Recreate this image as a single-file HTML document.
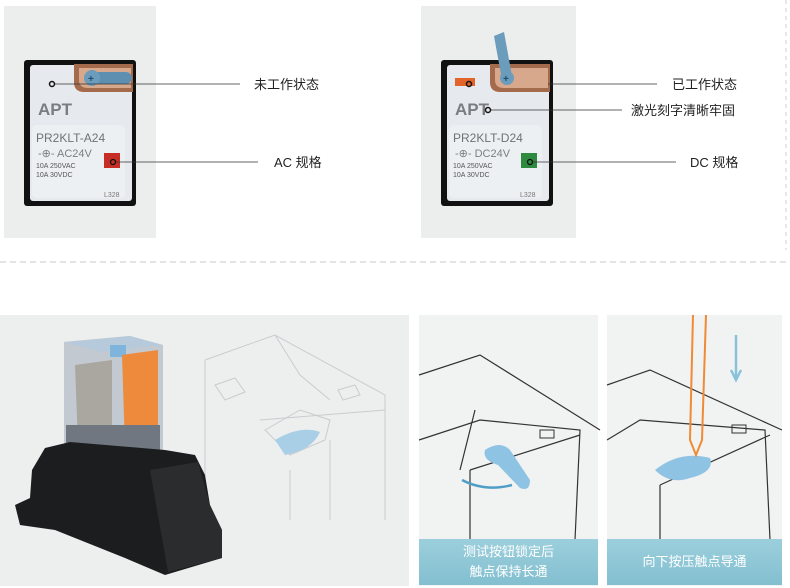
<!DOCTYPE html>
<html><head><meta charset="utf-8"><style>
body{margin:0;width:790px;height:588px;background:#fff;overflow:hidden;position:relative;font-family:"Liberation Sans","Noto Sans CJK SC",sans-serif}
.t{position:absolute;font-size:13px;color:#222;white-space:nowrap;line-height:1}
.cap{position:absolute;color:#fff;font-size:13px;text-align:center;line-height:20px;background:linear-gradient(#9ccfdc,#83bfd0)}
</style></head><body>
<svg width="790" height="588" style="position:absolute;left:0;top:0">
<rect x="4" y="6" width="152" height="232" fill="#eceeee"/>
<rect x="421" y="6" width="155" height="232" fill="#eceeee"/>
<line x1="0" y1="262" x2="790" y2="262" stroke="#c8c8c8" stroke-dasharray="6,4"/>
<line x1="786" y1="0" x2="786" y2="250" stroke="#d0d0d0" stroke-dasharray="4,4"/>

<g font-family="Liberation Sans, sans-serif">
<rect x="24" y="60" width="112" height="146" rx="3" fill="#111"/>
<rect x="30" y="65" width="102" height="136" rx="3" fill="#e6eaef"/>
<path d="M74 64 H133 V92 H84 Q74 92 74 82 Z" fill="#a46a4c"/>
<path d="M79 68 H131 V88 H88 Q79 88 79 80 Z" fill="#d8a88c"/>
<rect x="84" y="72" width="48" height="12" rx="6" fill="#5f8fb0"/>
<circle cx="92" cy="78" r="8" fill="#6c9cbc"/>
<text x="88" y="82" font-size="10" fill="#1f4d70" font-weight="bold">+</text>
<circle cx="52" cy="84" r="2.5" fill="none" stroke="#111" stroke-width="1.5"/>
<text x="38" y="115" font-size="17" font-weight="bold" fill="#7a7d82">APT</text>
<rect x="32" y="125" width="93" height="73" rx="5" fill="#edf0f3"/>
<text x="36" y="142" font-size="12" fill="#6d7278">PR2KLT-A24</text>
<text x="38" y="157" font-size="11" fill="#7a7f85">-⊕- AC24V</text>
<text x="36" y="168" font-size="7" fill="#555">10A  250VAC</text>
<text x="36" y="177" font-size="7" fill="#555">10A  30VDC</text>
<text x="104" y="197" font-size="7" fill="#777">L328</text>
<rect x="104" y="153" width="16" height="15" fill="#c62d24"/>
<circle cx="113" cy="162" r="2.5" fill="none" stroke="#111" stroke-width="1.3"/>
<line x1="55" y1="84" x2="240" y2="84" stroke="#333" stroke-width="0.8"/>
<line x1="116" y1="162" x2="258" y2="162" stroke="#333" stroke-width="0.8"/>

<rect x="441" y="60" width="112" height="146" rx="3" fill="#111"/>
<rect x="447" y="65" width="102" height="136" rx="3" fill="#e6eaef"/>
<path d="M490 64 H550 V92 H500 Q490 92 490 82 Z" fill="#a46a4c"/>
<path d="M495 68 H548 V88 H504 Q495 88 495 80 Z" fill="#d8a88c"/>
<path d="M494 36 L504 32 L512 76 L502 80 Z" fill="#6c9cbc"/>
<circle cx="507" cy="78" r="7" fill="#6c9cbc"/>
<text x="503" y="82" font-size="10" fill="#1f4d70" font-weight="bold">+</text>
<rect x="455" y="78" width="20" height="8" fill="#e2642a"/>
<circle cx="469" cy="84" r="2.5" fill="none" stroke="#111" stroke-width="1.5"/>
<text x="455" y="115" font-size="17" font-weight="bold" fill="#7a7d82">APT</text>
<circle cx="488" cy="110" r="2.5" fill="none" stroke="#111" stroke-width="1.5"/>
<rect x="449" y="125" width="93" height="73" rx="5" fill="#edf0f3"/>
<text x="453" y="142" font-size="12" fill="#6d7278">PR2KLT-D24</text>
<text x="455" y="157" font-size="11" fill="#7a7f85">-⊕- DC24V</text>
<text x="453" y="168" font-size="7" fill="#555">10A  250VAC</text>
<text x="453" y="177" font-size="7" fill="#555">10A  30VDC</text>
<text x="520" y="197" font-size="7" fill="#777">L328</text>
<rect x="521" y="153" width="16" height="15" fill="#2d8a3e"/>
<circle cx="530" cy="162" r="2.5" fill="none" stroke="#111" stroke-width="1.3"/>
<line x1="548" y1="84" x2="657" y2="84" stroke="#333" stroke-width="0.8"/>
<line x1="491" y1="110" x2="622" y2="110" stroke="#333" stroke-width="0.8"/>
<line x1="533" y1="162" x2="676" y2="162" stroke="#333" stroke-width="0.8"/>
</g>

<rect x="0" y="315" width="409" height="271" fill="#edeeee"/>
<rect x="419" y="315" width="179" height="271" fill="#f1f2f2"/>
<rect x="607" y="315" width="175" height="271" fill="#f1f2f2"/>

<g fill="none" stroke="#c9cccf" stroke-width="1">
<path d="M205 360 L275 335 L385 395 L385 520 M205 360 L205 420 M275 335 L300 375 L330 400 M260 420 L385 410"/>
<path d="M215 385 L235 378 L245 392 L225 400 Z M338 390 L355 385 L360 395 L343 400 Z"/>
<path d="M265 430 L300 410 L330 420 L325 440 L290 455 Z"/>
<path d="M290 470 L290 520 M330 440 L330 520 M205 420 L205 520"/>
</g>
<path d="M275 440 Q300 425 320 432 Q312 450 285 455 Z" fill="#a9cfe6"/>

<!-- relay photo -->
<path d="M64 342 L130 336 L163 345 L163 455 L120 462 L64 452 Z" fill="#c3c9d0"/>
<path d="M64 342 L130 336 L163 345 L100 352 Z" fill="#b7cadb"/>
<rect x="110" y="345" width="16" height="12" fill="#7fb4dc"/>
<path d="M122 355 L158 350 L158 440 L125 447 Z" fill="#ee8a3c"/>
<path d="M75 365 L112 360 L112 440 L78 445 Z" fill="#aaa7a1"/>
<path d="M66 425 L160 425 L160 455 L120 462 L66 452 Z" fill="#707780"/>
<path d="M45 448 L70 442 L165 450 L195 455 L205 475 L210 505 L222 530 L222 558 L165 575 L125 558 L55 530 L20 525 L15 505 L30 498 L32 470 Z" fill="#1c1d1f"/>
<path d="M150 470 L198 462 L210 505 L222 530 L222 558 L168 572 Z" fill="#2b2c2e"/>

<g fill="none" stroke="#333" stroke-width="1.2">
<path d="M419 375 L480 355 L600 430 M419 440 L480 420 L580 430 L575 540 M470 470 L580 435 M470 470 L470 540 M460 470 L475 410"/>
<path d="M607 385 L650 370 L782 430 M607 440 L640 420 L765 430 L770 540 M660 485 L770 435 M660 485 L660 540"/>
</g>
<g fill="none" stroke="#333" stroke-width="1"><rect x="540" y="430" width="14" height="8"/><rect x="732" y="425" width="14" height="8"/></g>
<path d="M485 450 Q500 440 510 450 L530 480 Q530 492 520 488 L498 465 Q482 460 485 450Z" fill="#8fc3e4"/>
<path d="M462 480 Q485 492 512 485" stroke="#4f9ec8" stroke-width="2.5" fill="none"/>
<path d="M655 470 Q680 450 710 458 Q715 472 690 478 Q670 485 655 470Z" fill="#8fc3e4"/>
<path d="M693 315 L690 440 L696 455 L702 440 L706 315" fill="none" stroke="#f08a35" stroke-width="2"/>
<path d="M736 335 L736 378 M731 370 L736 380 L741 370" stroke="#88c2dc" stroke-width="2.5" fill="none"/>
</svg>

<div class="t" style="left:254px;top:78px">未工作状态</div>
<div class="t" style="left:274px;top:156px">AC 规格</div>
<div class="t" style="left:672px;top:78px">已工作状态</div>
<div class="t" style="left:631px;top:104px">激光刻字清晰牢固</div>
<div class="t" style="left:690px;top:156px">DC 规格</div>

<div class="cap" style="left:419px;top:539px;width:179px;height:46px;padding-top:3px;box-sizing:border-box">测试按钮锁定后<br>触点保持长通</div>
<div class="cap" style="left:607px;top:539px;width:175px;height:46px;line-height:46px">向下按压触点导通</div>
</body></html>
